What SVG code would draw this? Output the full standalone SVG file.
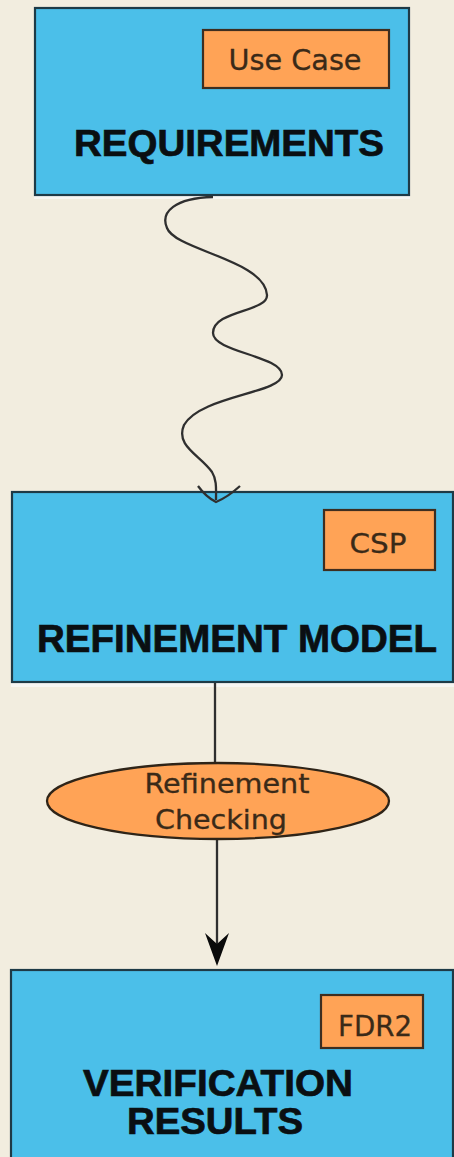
<svg xmlns="http://www.w3.org/2000/svg" width="454" height="1157" viewBox="0 0 454 1157">
  <style>
    .box { fill: #4bbfe9; stroke: #1e3a46; stroke-width: 2.2; }
    .tag { fill: #ffa356; stroke: #3e2e20; stroke-width: 2.2; }
    .sheen { fill: #f7f6f2; }
    .title { font-family: "Liberation Sans", Arial, sans-serif; font-weight: bold; fill: #0a0f12; stroke: #0a0f12; stroke-width: 0.7; }
    .label { font-family: "DejaVu Sans", Verdana, sans-serif; fill: #3a2a18; stroke: #3a2a18; stroke-width: 0.3; }
    .wire { fill: none; stroke: #2f2f2f; stroke-width: 2.3; }
  </style>

  <!-- page background -->
  <rect x="0" y="0" width="454" height="1157" fill="#f2eddf"/>

  <g id="requirements">
    <rect class="sheen" x="34" y="195" width="376" height="4"/>
    <rect class="box" x="35" y="8" width="374" height="187"/>
    <rect class="tag" x="203" y="30" width="186" height="58"/>
    <text class="label" x="295" y="70" font-size="29" text-anchor="middle" textLength="133" lengthAdjust="spacingAndGlyphs">Use Case</text>
    <text class="title" x="74" y="156" font-size="37" textLength="310" lengthAdjust="spacingAndGlyphs">REQUIREMENTS</text>
  </g>

  <g id="refinement-model">
    <rect class="sheen" x="11" y="682" width="443" height="5"/>
    <rect class="box" x="12" y="492" width="441" height="190"/>
    <rect class="tag" x="324" y="510" width="111" height="60"/>
    <text class="label" x="378" y="553" font-size="27" text-anchor="middle" textLength="57" lengthAdjust="spacingAndGlyphs">CSP</text>
    <text class="title" x="37" y="652" font-size="38" textLength="400" lengthAdjust="spacingAndGlyphs">REFINEMENT MODEL</text>
  </g>

  <g id="connectors">
    <!-- wavy derivation link from requirements to the model -->
    <path class="wire" d="M 213 197 C 175 198, 160 212, 167 228 C 175 250, 265 260, 267 295 C 268 312, 213 310, 213 333 C 213 352, 282 356, 282 375 C 282 393, 200 396, 184 425 C 175 446, 200 455, 212 472 C 217 480, 216 490, 216 500"/>
    <path class="wire" d="M 198 486 Q 206 497 216 502 Q 228 497 240 486"/>
    <!-- model to checking step -->
    <line class="wire" x1="215" y1="683" x2="215" y2="764"/>
    <!-- checking step to results -->
    <line class="wire" x1="217" y1="840" x2="217" y2="950"/>
    <path d="M 217 966 L 205 933 L 217 944 L 229 933 Z" fill="#0a0a0a"/>
  </g>

  <g id="refinement-checking">
    <ellipse cx="218" cy="801" rx="171" ry="38" fill="#ffa356" stroke="#2e2418" stroke-width="2.3"/>
    <text class="label" x="227" y="793" font-size="26" text-anchor="middle" textLength="165" lengthAdjust="spacingAndGlyphs">Refinement</text>
    <text class="label" x="221" y="829" font-size="26" text-anchor="middle" textLength="132" lengthAdjust="spacingAndGlyphs">Checking</text>
  </g>

  <g id="verification-results">
    <rect class="box" x="11" y="970" width="442" height="200"/>
    <rect class="tag" x="321" y="995" width="102" height="53"/>
    <text class="label" x="375" y="1036" font-size="28" text-anchor="middle" textLength="74" lengthAdjust="spacingAndGlyphs">FDR2</text>
    <text class="title" x="218" y="1096" font-size="37" text-anchor="middle" textLength="270" lengthAdjust="spacingAndGlyphs">VERIFICATION</text>
    <text class="title" x="215" y="1134" font-size="37" text-anchor="middle" textLength="176" lengthAdjust="spacingAndGlyphs">RESULTS</text>
  </g>
</svg>
